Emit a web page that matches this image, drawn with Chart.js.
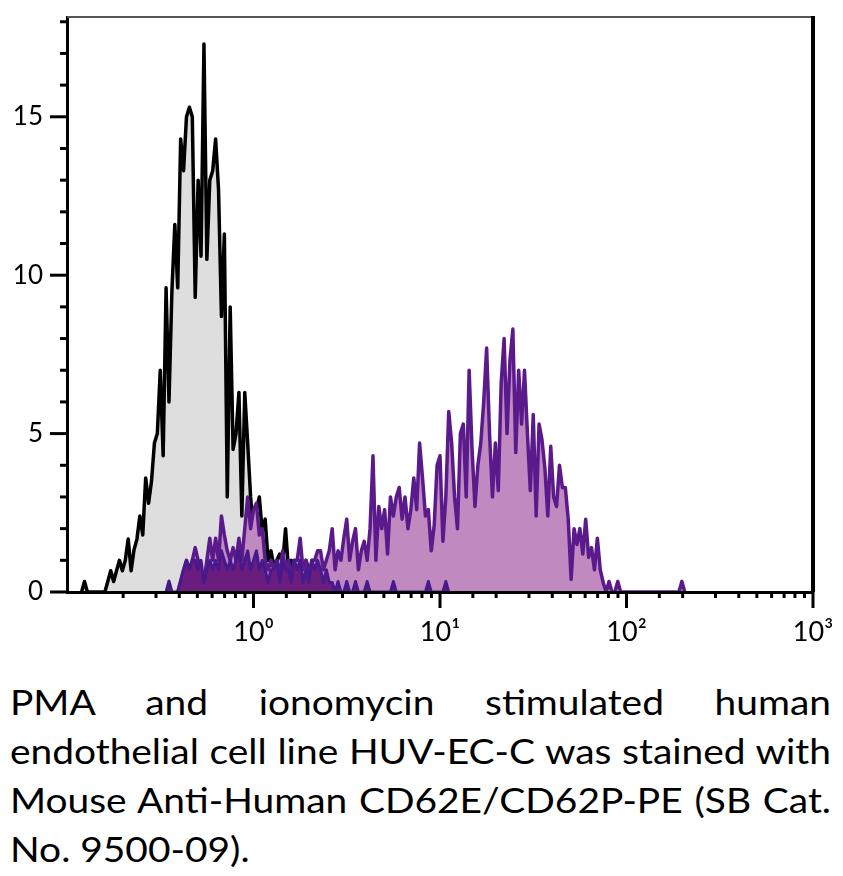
<!DOCTYPE html>
<html>
<head>
<meta charset="utf-8">
<script src="https://cdn.jsdelivr.net/npm/chart.js@4.4.1/dist/chart.umd.min.js"></script>
<style>
html,body{margin:0;padding:0;background:#fff;}
#wrap{position:relative;width:843px;height:876px;overflow:hidden;}
#chartBox{position:absolute;left:0;top:0;width:843px;height:660px;}
#caption{position:absolute;left:10px;top:677px;font-family:Lato,"Open Sans",sans-serif;font-size:35px;line-height:49px;color:#000;transform-origin:0 0;}
#caption div{text-align:justify;text-align-last:justify;}
#caption div.last{text-align-last:left;}
</style>
</head>
<body>
<div id="wrap">
  <div id="chartBox"><canvas id="c" width="843" height="660"></canvas></div>
  <div id="caption">
    <div>PMA and ionomycin stimulated human</div>
    <div>endothelial cell line HUV-EC-C was stained with</div>
    <div>Mouse Anti-Human CD62E/CD62P-PE (SB Cat.</div>
    <div class="last">No. 9500-09).</div>
  </div>
</div>
<script>
// ---- histogram channels: log-spaced bins, 64 per decade, starting at 10^-1 ----
const BINS_PER_DECADE = 64;
const X_START_EXP = -1;

// Unstained / control (black line, grey fill), first bin index:
const controlStartBin = 5;
const controlCounts = [
  0, 0.33, 0, 0, 0, 0, 0, 0, 0,
  0.33, 0.67, 0.33, 0.67, 1.0, 0.67, 1.0, 1.67, 0.67, 1.33,
  1.67, 2.4, 1.8, 3.6, 2.8, 3.5, 4.7, 5.0, 7.0, 4.3,
  9.6, 6.0, 9.5, 11.6, 9.6, 14.3, 13.3, 15.0, 15.3, 15.0,
  9.3, 13.0, 10.6, 17.3, 10.5, 13.0, 13.3, 14.3, 12.7, 8.7,
  11.3, 3.0, 9.0, 4.5, 5.0, 6.3, 2.4, 6.3, 4.7, 3.0,
  1.9, 2.6, 3.0, 1.9, 2.3, 1.0, 1.3, 0.8, 1.0, 1.2,
  0.9, 2.0, 0.7, 1.0, 0.3, 1.0, 0.7, 0.3, 1.0, 0.7,
  0.3, 0.7, 0.3, 0.7, 0.3, 0
];

// PMA + ionomycin stimulated, CD62E/CD62P-PE (purple line, orchid fill):
const stimStartBin = 38;
const stimCounts = [
  0, 0.35, 0.7, 1.0, 0.7, 1.0, 1.4, 1.0, 0.7, 0.3,
  1.0, 1.7, 1.0, 1.7, 1.0, 2.4, 1.8, 1.3, 1.0, 1.4,
  1.0, 1.7, 1.0, 2.0, 3.0, 2.0, 2.6, 2.8, 1.8, 2.0,
  1.0, 0.7, 1.0, 0.7, 1.0, 0.5, 1.3, 0.7, 1.0, 0.5,
  1.0, 1.0, 1.7, 0.7, 1.0, 0.5, 1.0, 1.0, 1.3, 1.3,
  0.7, 1.0, 1.3, 2.0, 0.7, 1.3, 1.0, 1.7, 2.3, 1.0,
  1.6, 2.0, 0.7, 1.3, 1.6, 1.0, 2.0, 4.3, 1.0, 2.7,
  2.0, 2.6, 1.2, 3.0, 2.4, 3.0, 3.3, 2.3, 3.0, 2.0,
  2.6, 3.6, 2.6, 4.7, 3.6, 2.4, 2.6, 1.3, 2.1, 4.0,
  4.3, 1.6, 3.0, 5.7, 4.7, 3.0, 2.0, 5.0, 5.3, 3.0,
  7.0, 4.5, 2.7, 4.0, 4.7, 6.0, 7.7, 5.0, 3.0, 4.7,
  3.2, 6.6, 8.0, 5.0, 7.3, 8.3, 4.4, 7.0, 5.3, 7.0,
  5.0, 3.2, 5.6, 2.4, 5.3, 4.8, 3.9, 2.4, 4.6, 3.0,
  2.7, 4.0, 3.3, 3.3, 2.3, 0.4, 2.0, 1.5, 2.0, 1.2,
  2.3, 1.1, 1.4, 0.7, 1.7, 0.7, 0.3, 0, 0.33, 0,
  0, 0.33, 0, 0, 0, 0, 0, 0, 0, 0,
  0, 0, 0, 0, 0, 0, 0, 0, 0, 0,
  0, 0, 0, 0.33, 0
];

// Low-level overlay (dark purple):
const darkStartBin = 34;
const darkCounts = [
  0, 0.35, 0, 0, 0, 0.35, 0.7, 1.0, 0.7, 1.0,
  1.0, 0.7, 1.0, 0.3, 0.7, 1.0, 0.7, 1.0, 0.7, 1.3,
  1.0, 0.7, 1.0, 0.7, 1.0, 1.3, 0.7, 1.0, 1.3, 0.7,
  1.0, 1.3, 0.7, 1.0, 0.7, 0.3, 0.7, 0.7, 1.0, 0.3,
  1.0, 0.7, 0.7, 0.3, 1.0, 0.7, 1.0, 0.3, 0.7, 0.3,
  1.0, 0.7, 1.0, 0.7, 0.3, 0.7, 0.3, 0.3, 0, 0.33,
  0, 0, 0.33, 0, 0, 0.33, 0, 0, 0, 0.33,
  0, 0, 0, 0, 0, 0, 0, 0, 0.33, 0,
  0, 0, 0, 0, 0, 0, 0, 0, 0, 0,
  0.33, 0, 0, 0, 0, 0, 0.33, 0
];

// Axis ticks / labels
const xMin = 0.1, xMax = 1000;
const xDecadeLabels = {0: '10\u2070', 1: '10\u00B9', 2: '10\u00B2', 3: '10\u00B3'};
const yMin = 0, yMax = 18.15;
const yLabelValues = [0, 5, 10, 15];

function toPoints(start, counts) {
  return counts.map((c, k) => ({x: Math.pow(10, X_START_EXP + (start + k) / BINS_PER_DECADE), y: c}));
}

const frameTicks = {
  id: 'frameTicks',
  afterDraw(chart) {
    const {ctx, chartArea: a, scales: {x, y}} = chart;
    ctx.save();
    ctx.strokeStyle = '#000';
    ctx.lineWidth = 3;
    ctx.lineCap = 'butt';
    x.ticks.forEach(t => {
      const e = Math.log10(t.value);
      const major = Math.abs(e - Math.round(e)) < 1e-6;
      const px = x.getPixelForValue(t.value);
      if (px < a.left + 2) return;
      ctx.beginPath();
      ctx.moveTo(px, a.bottom);
      ctx.lineTo(px, a.bottom + (major ? 16 : 6));
      ctx.stroke();
    });
    y.ticks.forEach(t => {
      const major = yLabelValues.includes(t.value);
      const py = y.getPixelForValue(t.value);
      ctx.beginPath();
      ctx.moveTo(a.left, py);
      ctx.lineTo(a.left - (major ? 17 : 7), py);
      ctx.stroke();
    });
    ctx.strokeStyle = '#555';
    ctx.lineWidth = 2;
    ctx.beginPath();
    ctx.moveTo(a.left, a.top);
    ctx.lineTo(a.right, a.top);
    ctx.stroke();
    ctx.strokeStyle = '#000';
    ctx.lineWidth = 4;
    ctx.beginPath();
    ctx.moveTo(a.right, a.top - 1);
    ctx.lineTo(a.right, a.bottom);
    ctx.stroke();
    ctx.restore();
  }
};

function zeroPad(s) { s.paddingTop = 0; s.paddingBottom = 0; s.paddingLeft = 0; s.paddingRight = 0; }

new Chart(document.getElementById('c'), {
  type: 'line',
  data: {
    datasets: [
      {label: 'low', data: toPoints(darkStartBin, darkCounts), borderColor: '#47198C', backgroundColor: '#6B1D7D', borderWidth: 3, fill: 'origin'},
      {label: 'stimulated', data: toPoints(stimStartBin, stimCounts), borderColor: '#5A1A8B', backgroundColor: '#C08AC0', borderWidth: 3.5, fill: 'origin'},
      {label: 'control', data: toPoints(controlStartBin, controlCounts), borderColor: '#000000', backgroundColor: '#DEDEDE', borderWidth: 3.5, fill: 'origin'}
    ]
  },
  options: {
    responsive: false,
    animation: false,
    layout: {padding: {top: 17, right: 30, left: 0, bottom: 0}},
    plugins: {legend: {display: false}, tooltip: {enabled: false}},
    elements: {point: {radius: 0}, line: {tension: 0, borderJoinStyle: 'round'}},
    scales: {
      x: {
        type: 'logarithmic', min: xMin, max: xMax, position: 'bottom',
        grid: {display: false, drawTicks: false},
        border: {display: true, color: '#000', width: 3, z: 1},
        ticks: {
          autoSkip: false, maxRotation: 0, padding: 24, color: '#000',
          font: {family: 'Lato, "Noto Sans", sans-serif', size: 27},
          callback: (v) => {
            const e = Math.log10(v);
            const r = Math.round(e);
            return (Math.abs(e - r) < 1e-6 && xDecadeLabels[r] !== undefined) ? xDecadeLabels[r] : '';
          }
        },
        afterFit: (s) => { s.height = 68; zeroPad(s); }
      },
      y: {
        type: 'linear', min: yMin, max: yMax,
        grid: {display: false, drawTicks: false},
        border: {display: true, color: '#000', width: 3, z: 1},
        ticks: {
          stepSize: 1, includeBounds: false, autoSkip: false, padding: 24, color: '#000',
          font: {family: 'Lato, "Noto Sans", sans-serif', size: 26},
          callback: (v) => yLabelValues.includes(v) ? String(v) : ''
        },
        afterFit: (s) => { s.width = 67; zeroPad(s); }
      }
    }
  },
  plugins: [frameTicks]
});

// fit caption block to the reference text width (821px)
(function fitCaption() {
  const cap = document.getElementById('caption');
  const cv = document.createElement('canvas').getContext('2d');
  cv.font = '35px Lato';
  let w = 0;
  cap.querySelectorAll('div').forEach(d => { w = Math.max(w, cv.measureText(d.textContent).width); });
  w = Math.ceil(w) + 2;
  cap.style.width = w + 'px';
  cap.style.transform = 'scaleX(' + (821 / w) + ')';
})();
</script>
</body>
</html>
